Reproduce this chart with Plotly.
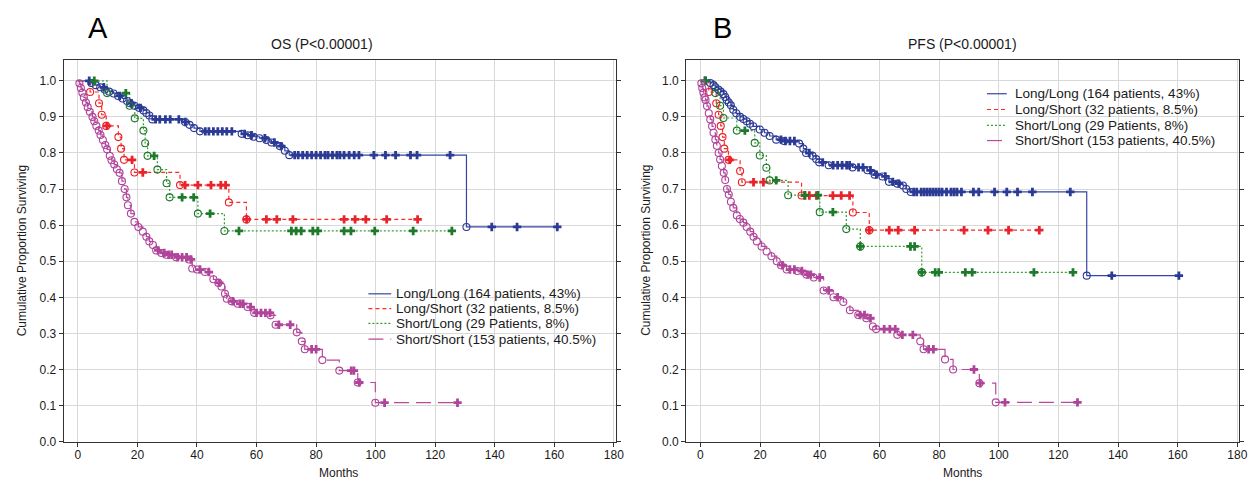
import plotly.graph_objects as go

# ---------------- axis ticks / labels ----------------
MONTH_TICKS = [0, 20, 40, 60, 80, 100, 120, 140, 160, 180]
SURV_TICKS = [0.0, 0.1, 0.2, 0.3, 0.4, 0.5, 0.6, 0.7, 0.8, 0.9, 1.0]
GROUP_NAMES = ["Long/Long (164 patients, 43%)", "Long/Short (32 patients, 8.5%)",
               "Short/Long (29 Patients, 8%)", "Short/Short (153 patients, 40.5%)"]
PANEL_TITLES = ["OS (P<0.00001)", "PFS (P<0.00001)"]
PANEL_LETTERS = ["A", "B"]
X_TITLE = "Months"
Y_TITLE = "Cumulative Proportion Surviving"

# ---------------- OS data (event times / survival after event, censor times) ----------------
os_ll_t = [4.5, 6, 7.5, 9, 10.5, 12, 13.5, 15, 16.5, 17.5, 19, 20.5, 22, 23, 24, 25, 36, 37.5, 39, 41,
           55, 57, 59, 61, 63.3, 65, 67.8, 69.5, 71, 130.5]
os_ll_s = [0.994, 0.988, 0.982, 0.976, 0.97, 0.965, 0.958, 0.951, 0.944, 0.938, 0.931, 0.925, 0.918, 0.911,
           0.904, 0.893, 0.886, 0.878, 0.869, 0.86, 0.853, 0.849, 0.845, 0.841, 0.836, 0.829, 0.819, 0.806,
           0.794, 0.595]
os_ll_c = [3.8, 8.7, 14, 18, 21, 26.1, 27.5, 29.4, 31, 33.9, 36.1, 42.8, 44, 45.5, 47, 48.5, 50, 51.7, 56,
           58.3, 62.8, 66, 68.3, 72.8, 74, 75.5, 77, 78.5, 80, 81.5, 83, 84, 85.5, 87, 88, 89.4, 91.1, 92.8,
           94.4, 99.4, 103.3, 106.7, 111.7, 113.9, 125, 139, 147.5, 161]

os_ls_t = [4.1, 7.1, 8, 9.5, 13.6, 14.5, 15.5, 19, 34.3, 50.7, 56.6]
os_ls_s = [0.969, 0.938, 0.906, 0.875, 0.844, 0.812, 0.781, 0.746, 0.711, 0.663, 0.616]
os_ls_c = [9.8, 18.2, 21.8, 36, 40.3, 44.7, 48, 49.6, 56.7, 63.3, 66.8, 72.2, 89.4, 93.1, 96.7, 103.7, 114.1]

os_sl_t = [9.8, 17.4, 19.1, 22, 22.6, 23.4, 26.7, 29.8, 30.8, 40.3, 49.2]
os_sl_s = [0.966, 0.931, 0.896, 0.862, 0.827, 0.792, 0.754, 0.716, 0.677, 0.632, 0.584]
os_sl_c = [5.5, 16.1, 25.6, 35, 38.9, 44.4, 54.1, 71.7, 73.3, 75, 78.9, 80.6, 89.4, 91.7, 99.7, 112.6, 125.6]

os_ss_t = [0.5, 1, 1.5, 2, 2.7, 3.3, 4, 4.9, 5.5, 6.2, 7, 7.6, 8.4, 9.2, 9.8, 10.7, 11.3, 12.2, 13.1, 14,
           14.8, 15.7, 16.3, 16.8, 17.8, 19, 20.3, 21.8, 23, 24, 25.2, 26.3, 28, 29.6, 33, 37.3, 38.4, 40,
           42.7, 45.5, 47.2, 48.2, 49.4, 50, 51.6, 53.7, 57, 59.2, 64.7, 66.4, 73.5, 75.2, 76.2, 82.1, 87.8,
           94, 99.9]
os_ss_s = [0.993, 0.98, 0.967, 0.954, 0.94, 0.927, 0.914, 0.9, 0.888, 0.875, 0.862, 0.85, 0.836, 0.822,
           0.81, 0.792, 0.78, 0.768, 0.755, 0.745, 0.722, 0.70, 0.677, 0.655, 0.632, 0.609, 0.595, 0.582,
           0.568, 0.555, 0.545, 0.53, 0.523, 0.518, 0.511, 0.505, 0.48, 0.477, 0.47, 0.45, 0.44, 0.43, 0.41,
           0.396, 0.389, 0.382, 0.373, 0.357, 0.35, 0.324, 0.303, 0.278, 0.256, 0.226, 0.197, 0.164, 0.108]
os_ss_c = [27, 29, 30.5, 31.5, 33.5, 35, 36.5, 38, 41, 44, 47.5, 52, 54.5, 55.5, 58, 60, 61.5, 63, 64.5,
           67.5, 71.3, 78.5, 80, 91.8, 92.7, 94.5, 103, 127.5]

# ---------------- PFS data ----------------
pfs_ll_t = [3.3, 4.4, 5, 6, 6.8, 7.7, 8.3, 8.8, 9.5, 10.2, 11, 12, 13.3, 14.4, 15.5, 16.6, 17.7, 19.9, 21.5,
            23.2, 25.4, 28, 33.1, 34.5, 35.4, 37.6, 38.8, 39.8, 43, 51, 56, 58.4, 61, 63.2, 66, 67.9, 69,
            70.5, 129.5]
pfs_ll_s = [0.994, 0.988, 0.982, 0.976, 0.97, 0.963, 0.955, 0.947, 0.94, 0.932, 0.92, 0.91, 0.9, 0.894,
            0.888, 0.881, 0.874, 0.865, 0.856, 0.847, 0.837, 0.833, 0.826, 0.812, 0.8, 0.792, 0.783, 0.774,
            0.766, 0.76, 0.752, 0.74, 0.735, 0.72, 0.715, 0.71, 0.70, 0.692, 0.46]
pfs_ll_c = [1.7, 27, 28.5, 30, 31.5, 36.5, 41, 44.5, 46, 47.5, 49, 50, 53, 54.5, 57, 59, 62, 64.5, 66.5,
            71.5, 72.5, 74, 75, 76, 77, 78, 79, 80, 81, 82.5, 84, 85, 86, 87.5, 91.5, 93.3, 98.6, 102.7,
            106.3, 111.3, 124, 137.9, 160.4]

pfs_ls_t = [2.8, 5.3, 6.1, 6.8, 7.4, 8, 9.4, 13.3, 13.9, 33.9, 51.1, 56.6]
pfs_ls_s = [0.969, 0.938, 0.906, 0.875, 0.844, 0.812, 0.781, 0.75, 0.719, 0.682, 0.635, 0.586]
pfs_ls_c = [9.8, 17.8, 21.1, 35, 36.5, 38.9, 44.4, 47.2, 50, 56.6, 63.3, 66.3, 71.8, 88.4, 96.4, 103.3, 113.6]

pfs_sl_t = [5, 6.6, 7.7, 12.2, 18.2, 19.9, 22.1, 23.2, 29.4, 40, 48.9, 53.6, 74.2]
pfs_sl_s = [0.966, 0.931, 0.897, 0.862, 0.828, 0.793, 0.759, 0.724, 0.683, 0.636, 0.589, 0.541, 0.469]
pfs_sl_c = [1.5, 14.9, 25.4, 35, 39.4, 44.4, 53.6, 70.4, 71.8, 74.2, 78.7, 79.9, 88.8, 91.1, 111.8, 124.9]

pfs_ss_t = [0.3, 0.6, 1, 1.4, 1.7, 2.2, 2.8, 3.3, 3.9, 4.4, 5, 5.5, 6.1, 6.6, 7.2, 7.8, 8.3, 8.9, 9.5, 10.2,
            11, 12.2, 13.2, 14.4, 15.5, 16.7, 17.8, 18.9, 20.5, 22.2, 23.8, 25.6, 27, 28.9, 32.5, 35.5, 38,
            41.3, 44.6, 47.9, 50.1, 52.9, 55.6, 57.8, 58.9, 66, 73.7, 74.8, 82, 84.7, 93.5, 99]
pfs_ss_s = [0.993, 0.98, 0.967, 0.954, 0.947, 0.93, 0.91, 0.893, 0.874, 0.856, 0.837, 0.82, 0.80, 0.782,
            0.764, 0.745, 0.725, 0.70, 0.685, 0.665, 0.648, 0.627, 0.617, 0.607, 0.595, 0.582, 0.568, 0.555,
            0.541, 0.527, 0.514, 0.5, 0.489, 0.477, 0.473, 0.463, 0.455, 0.419, 0.40, 0.387, 0.364, 0.351,
            0.342, 0.319, 0.312, 0.296, 0.278, 0.256, 0.228, 0.2, 0.162, 0.109]
pfs_ss_c = [27.5, 30, 31.5, 34, 36, 37, 40, 43, 46, 53.5, 55, 57, 61.6, 63.5, 65.3, 67.7, 71.2, 76.5, 78.1,
            91.7, 93.8, 102.1, 126.4]

OS_GROUPS = [(os_ll_t, os_ll_s, os_ll_c), (os_ls_t, os_ls_s, os_ls_c),
             (os_sl_t, os_sl_s, os_sl_c), (os_ss_t, os_ss_s, os_ss_c)]
PFS_GROUPS = [(pfs_ll_t, pfs_ll_s, pfs_ll_c), (pfs_ls_t, pfs_ls_s, pfs_ls_c),
              (pfs_sl_t, pfs_sl_s, pfs_sl_c), (pfs_ss_t, pfs_ss_s, pfs_ss_c)]

# ---------------- styles ----------------
LINE_COLORS = ["#3545a3", "#ff2a2a", "#33a033", "#b8499f"]
MARK_COLORS = ["#2b3a94", "#e8232a", "#1d7a2a", "#b0449a"]
DASHES = ["solid", "4px,3px", "2px,2px", "15px,7px"]
FONT = "Liberation Sans, Arial, sans-serif"
TXT = "#1a1a1a"


def surv_at(t, ev_t, ev_s):
    s = 1.0
    for et, es in zip(ev_t, ev_s):
        if et <= t:
            s = es
    return s


fig = go.Figure()
for panel, groups in enumerate([OS_GROUPS, PFS_GROUPS]):
    xa = "x" if panel == 0 else "x2"
    ya = "y" if panel == 0 else "y2"
    for g, (et, es, ct) in enumerate(groups):
        end = max(et + ct)
        fig.add_trace(go.Scatter(
            x=[0] + et + [end], y=[1.0] + es + [es[-1]], mode="lines", line_shape="hv",
            line=dict(color=LINE_COLORS[g], width=1.2, dash=DASHES[g]),
            name=GROUP_NAMES[g], showlegend=False, xaxis=xa, yaxis=ya, hoverinfo="skip"))
    for g, (et, es, ct) in enumerate(groups):
        fig.add_trace(go.Scatter(
            x=et, y=es, mode="markers", showlegend=False, xaxis=xa, yaxis=ya, hoverinfo="skip",
            marker=dict(symbol="circle-open", size=7, color=MARK_COLORS[g], line=dict(width=1.1))))
        fig.add_trace(go.Scatter(
            x=ct, y=[surv_at(c, et, es) for c in ct], mode="markers", showlegend=False,
            xaxis=xa, yaxis=ya, hoverinfo="skip",
            marker=dict(symbol="cross", size=7, color=MARK_COLORS[g], line=dict(width=0))))

W, H = 1260, 486
X_DOMAINS = [[56 / W, 612 / W], [683 / W, 1240 / W]]
Y_DOMAIN = [(H - 440) / H, (H - 53) / H]

axis_common = dict(showgrid=True, gridcolor="#d8d8d8", gridwidth=1, showline=True, linecolor="#333333",
                   linewidth=1, ticks="outside", ticklen=4, tickcolor="#333333", zeroline=False,
                   tickfont=dict(family=FONT, size=12, color=TXT))
layout = dict(width=W, height=H, margin=dict(l=0, r=0, t=0, b=0), paper_bgcolor="white",
              plot_bgcolor="white", font=dict(family=FONT, color=TXT))
for i in range(2):
    sx = "" if i == 0 else "2"
    layout["xaxis" + sx] = dict(axis_common, domain=X_DOMAINS[i], range=[-4.8, 180.6], tickvals=MONTH_TICKS,
                                mirror=True, anchor="y" + sx, ticklabelstandoff=-2)
    layout["yaxis" + sx] = dict(axis_common, domain=Y_DOMAIN, range=[0, 1.057], tickvals=SURV_TICKS,
                                tickformat=".1f", mirror="ticks", anchor="x" + sx)

ann = []
shapes = []
title_x = [316, 961]
months_x = [333, 961]
ytitle_x = [15, 643]
letter_x = [91, 720]
# hand-drawn legends (one per panel): sample line + label
legend_rows = [[290, 305, 320, 336], [87, 103, 119, 134.5]]
legend_sample_x = [[363, 386], [986, 1006]]
legend_text_x = [389, 1012]
for i in range(2):
    ann.append(dict(text=PANEL_TITLES[i], x=title_x[i] / W, y=(H - 37) / H, xref="paper", yref="paper",
                    xanchor="center", yanchor="middle", showarrow=False,
                    font=dict(size=14, family=FONT, color=TXT)))
    ann.append(dict(text=X_TITLE, x=months_x[i] / W, y=(H - 472) / H, xref="paper", yref="paper",
                    xanchor="center", yanchor="middle", showarrow=False,
                    font=dict(size=12, family=FONT, color=TXT)))
    ann.append(dict(text=Y_TITLE, x=ytitle_x[i] / W, y=(H - 246) / H, xref="paper", yref="paper",
                    xanchor="center", yanchor="middle", showarrow=False, textangle=-90,
                    font=dict(size=12, family=FONT, color=TXT)))
    ann.append(dict(text=PANEL_LETTERS[i], x=letter_x[i] / W, y=(H - 20) / H, xref="paper", yref="paper",
                    xanchor="center", yanchor="middle", showarrow=False,
                    font=dict(size=29, family=FONT, color="#000000")))
    for g in range(4):
        yy = (H - legend_rows[i][g]) / H
        shapes.append(dict(type="line", xref="paper", yref="paper",
                           x0=legend_sample_x[i][0] / W, x1=legend_sample_x[i][1] / W, y0=yy, y1=yy,
                           line=dict(color=LINE_COLORS[g], width=1.2, dash=DASHES[g])))
        ann.append(dict(text=GROUP_NAMES[g], x=legend_text_x[i] / W, y=yy, xref="paper", yref="paper",
                        xanchor="left", yanchor="middle", showarrow=False,
                        font=dict(size=13.5, family=FONT, color=TXT)))
layout["annotations"] = ann
layout["shapes"] = shapes

fig.update_layout(**layout)
fig.write_html("out.html")
